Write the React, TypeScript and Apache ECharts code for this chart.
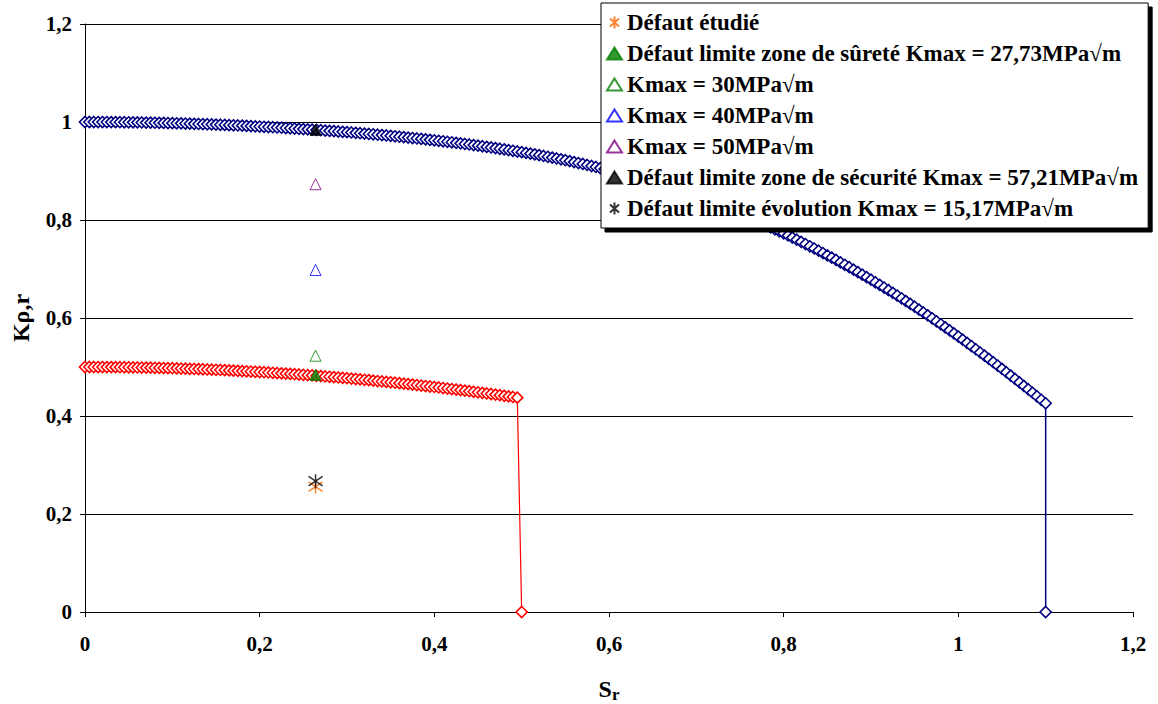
import React, { useEffect, useRef } from "react";
import * as echarts from "echarts";

// Sr sampling step of the two limit curves
const CURVE_STEP = 0.005;

// Upper (blue) limit curve Kρ,r values, Sr = 0 .. 1.1
const BLUE_KR = [
  1.0, 1.0, 1.0, 0.9999, 0.9999, 0.9999, 0.9998, 0.9997, 0.9996, 0.9995, 0.9994, 0.9993, 0.9992, 0.999, 0.9988, 0.9987, 0.9985, 0.9983, 0.9981, 0.9979, 0.9977,
  0.9974, 0.9972, 0.9969, 0.9966, 0.9963, 0.996, 0.9957, 0.9954, 0.9951, 0.9947, 0.9944, 0.994, 0.9936, 0.9933, 0.9929, 0.9925, 0.992, 0.9916, 0.9912, 0.9907,
  0.9902, 0.9898, 0.9893, 0.9888, 0.9883, 0.9877, 0.9872, 0.9867, 0.9861, 0.9855, 0.985, 0.9844, 0.9838, 0.9832, 0.9825, 0.9819, 0.9813, 0.9806, 0.9799, 0.9793,
  0.9786, 0.9779, 0.9771, 0.9764, 0.9756, 0.9749, 0.9741, 0.9733, 0.9725, 0.9717, 0.9708, 0.97, 0.9691, 0.9682, 0.9673, 0.9664, 0.9655, 0.9646, 0.9636, 0.9627,
  0.9617, 0.9607, 0.9596, 0.9586, 0.9575, 0.9564, 0.9552, 0.9541, 0.9529, 0.9517, 0.9505, 0.9492, 0.948, 0.9467, 0.9454, 0.944, 0.9426, 0.9413, 0.9398, 0.9384,
  0.9369, 0.9354, 0.9339, 0.9323, 0.9307, 0.929, 0.9273, 0.9256, 0.9238, 0.922, 0.9201, 0.9182, 0.9163, 0.9143, 0.9123, 0.9102, 0.9082, 0.906, 0.9039, 0.9017,
  0.8994, 0.8971, 0.8948, 0.8924, 0.8899, 0.8874, 0.8849, 0.8823, 0.8796, 0.8769, 0.8742, 0.8714, 0.8685, 0.8656, 0.8627, 0.8597, 0.8566, 0.8535, 0.8504, 0.8472,
  0.8439, 0.8406, 0.8373, 0.8339, 0.8304, 0.8269, 0.8234, 0.8198, 0.8161, 0.8124, 0.8087, 0.8049, 0.801, 0.7971, 0.7932, 0.7892, 0.7851, 0.781, 0.7769, 0.7727,
  0.7684, 0.7641, 0.7598, 0.7554, 0.7509, 0.7464, 0.7419, 0.7373, 0.7326, 0.7279, 0.7232, 0.7184, 0.7135, 0.7086, 0.7037, 0.6987, 0.6936, 0.6885, 0.6834, 0.6782,
  0.6729, 0.6676, 0.6622, 0.6568, 0.6513, 0.6458, 0.6402, 0.6345, 0.6288, 0.623, 0.6172, 0.6113, 0.6054, 0.5994, 0.5933, 0.5872, 0.581, 0.5748, 0.5685, 0.5622,
  0.5558, 0.5493, 0.5428, 0.5363, 0.5297, 0.5231, 0.5165, 0.5098, 0.503, 0.4962, 0.4894, 0.4825, 0.4756, 0.4686, 0.4616, 0.4546, 0.4475, 0.4403, 0.4331, 0.4259,
];
const BLUE_END: [number, number] = [1.1, 0];

// Lower (red) limit curve Kρ,r values, Sr = 0 .. 0.495
const RED_KR = [
  0.5, 0.5, 0.5, 0.4999, 0.4999, 0.4998, 0.4998, 0.4997, 0.4996, 0.4995,
  0.4994, 0.4992, 0.4991, 0.4989, 0.4988, 0.4986, 0.4984, 0.4982, 0.4979, 0.4977,
  0.4975, 0.4972, 0.4969, 0.4966, 0.4963, 0.496, 0.4957, 0.4954, 0.495, 0.4946,
  0.4943, 0.4939, 0.4935, 0.4931, 0.4926, 0.4922, 0.4917, 0.4913, 0.4908, 0.4903,
  0.4898, 0.4893, 0.4888, 0.4882, 0.4877, 0.4871, 0.4865, 0.4859, 0.4853, 0.4847,
  0.4841, 0.4834, 0.4828, 0.4821, 0.4814, 0.4807, 0.48, 0.4793, 0.4786, 0.4778,
  0.4771, 0.4763, 0.4755, 0.4747, 0.4739, 0.4731, 0.4722, 0.4714, 0.4705, 0.4696,
  0.4688, 0.4679, 0.467, 0.466, 0.4651, 0.4641, 0.4632, 0.4622, 0.4612, 0.4602,
  0.4592, 0.4582, 0.4571, 0.4561, 0.455, 0.4539, 0.4529, 0.4517, 0.4506, 0.4495,
  0.4484, 0.4472, 0.446, 0.4449, 0.4437, 0.4425, 0.4412, 0.44, 0.4388, 0.4375,
];
const RED_END: [number, number] = [0.5, 0];

// Defect points
const POINT_NAMES = [
  "Défaut étudié",
  "Défaut limite zone de sûreté Kmax = 27,73MPa√m",
  "Kmax = 30MPa√m",
  "Kmax = 40MPa√m",
  "Kmax = 50MPa√m",
  "Défaut limite zone de sécurité Kmax = 57,21MPa√m",
  "Défaut limite évolution Kmax = 15,17MPa√m",
];
const POINT_SR = [0.264, 0.264, 0.264, 0.264, 0.264, 0.264, 0.264];
const POINT_KR = [0.256, 0.484, 0.523, 0.698, 0.873, 0.984, 0.267];

const FONT = "Liberation Serif";
const ASTERISK = "path://M5,0L5,10M1.2,1.6L8.8,8.4M1.2,8.4L8.8,1.6";

const fmt = (v: number) => String(Number(v.toFixed(1))).replace(".", ",");

export default function App() {
  const ref = useRef<HTMLDivElement>(null);

  useEffect(() => {
    if (!ref.current) return;
    const chart = echarts.init(ref.current, null, { renderer: "svg" });

    const blueData = BLUE_KR.map((k, i) => [i * CURVE_STEP, k]).concat([BLUE_END]);
    const redData = RED_KR.map((k, i) => [i * CURVE_STEP, k]).concat([RED_END]);

    const pointStyles: any[] = [
      { symbol: ASTERISK, size: 14, itemStyle: { color: "rgba(0,0,0,0)", borderColor: "#FF6600", borderWidth: 1.5 } },
      { symbol: "triangle", size: 11, itemStyle: { color: "#008000", borderColor: "#008000", borderWidth: 1 } },
      { symbol: "triangle", size: 11, itemStyle: { color: "#ffffff", borderColor: "#008000", borderWidth: 1 } },
      { symbol: "triangle", size: 11, itemStyle: { color: "#ffffff", borderColor: "#0000FF", borderWidth: 1 } },
      { symbol: "triangle", size: 11, itemStyle: { color: "#ffffff", borderColor: "#800080", borderWidth: 1 } },
      { symbol: "triangle", size: 11, itemStyle: { color: "#000000", borderColor: "#000000", borderWidth: 1 } },
      { symbol: ASTERISK, size: 14, itemStyle: { color: "rgba(0,0,0,0)", borderColor: "#000000", borderWidth: 1.5 } },
    ];

    const pointSeries = POINT_NAMES.map((name, i) => ({
      type: "scatter",
      name,
      data: [[POINT_SR[i], POINT_KR[i]]],
      symbol: pointStyles[i].symbol,
      symbolSize: pointStyles[i].size,
      itemStyle: pointStyles[i].itemStyle,
      z: 5,
    }));

    const axisText = { color: "#000", fontFamily: FONT, fontWeight: "bold", fontSize: 21 };

    chart.setOption({
      animation: false,
      backgroundColor: "#ffffff",
      textStyle: { fontFamily: FONT },
      grid: { left: 85, right: 25, top: 24, bottom: 92, outerBoundsMode: "none", containLabel: false },
      xAxis: {
        type: "value",
        min: 0,
        max: 1.2,
        interval: 0.2,
        axisLine: { show: true, lineStyle: { color: "#000", width: 1 } },
        axisTick: { show: true, inside: false, length: 5, lineStyle: { color: "#000" } },
        splitLine: { show: false },
        axisLabel: { ...axisText, margin: 21, formatter: fmt },
        name: "{s|S}{sub|r}",
        nameLocation: "middle",
        nameGap: 62,
        nameTextStyle: {
          rich: {
            s: { fontFamily: FONT, fontWeight: "bold", fontSize: 24, color: "#000" },
            sub: { fontFamily: FONT, fontWeight: "bold", fontSize: 17, color: "#000", padding: [12, 0, 0, 0] },
          },
        },
      },
      yAxis: {
        type: "value",
        min: 0,
        max: 1.2,
        interval: 0.2,
        axisLine: { show: true, lineStyle: { color: "#000", width: 1 } },
        axisTick: { show: true, inside: false, length: 5, lineStyle: { color: "#000" } },
        splitLine: { show: true, lineStyle: { color: "#000", width: 1 } },
        axisLabel: { ...axisText, margin: 13, formatter: fmt },
        name: "Kρ,r",
        nameLocation: "middle",
        nameRotate: 90,
        nameGap: 52,
        nameTextStyle: { fontFamily: FONT, fontWeight: "bold", fontSize: 24, color: "#000" },
      },
      legend: {
        orient: "vertical",
        left: 601,
        top: 3,
        padding: [7, 10, 7, 5],
        itemWidth: 15,
        itemHeight: 12,
        itemGap: 6,
        backgroundColor: "#ffffff",
        borderColor: "#000",
        borderWidth: 1,
        shadowColor: "#000",
        shadowBlur: 0,
        shadowOffsetX: 4,
        shadowOffsetY: 4,
        textStyle: { fontFamily: FONT, fontWeight: "bold", fontSize: 23, color: "#000", lineHeight: 25 },
        data: POINT_NAMES,
        selectedMode: false,
        z: 10,
      },
      series: [
        {
          type: "line",
          name: "limite haute",
          data: blueData,
          symbol: "diamond",
          symbolSize: 11,
          showAllSymbol: true,
          lineStyle: { color: "#000080", width: 1.5 },
          itemStyle: { color: "#ffffff", borderColor: "#000080", borderWidth: 1.6 },
          z: 2,
        },
        {
          type: "line",
          name: "limite basse",
          data: redData,
          symbol: "diamond",
          symbolSize: 11,
          showAllSymbol: true,
          lineStyle: { color: "#FF0000", width: 1.2 },
          itemStyle: { color: "#ffffff", borderColor: "#FF0000", borderWidth: 1.6 },
          z: 2,
        },
        ...pointSeries,
      ],
    });

    return () => chart.dispose();
  }, []);

  return (
    <div
      ref={ref}
      style={{ position: "fixed", left: 0, top: 0, width: 1158, height: 704, background: "#fff" }}
    />
  );
}
